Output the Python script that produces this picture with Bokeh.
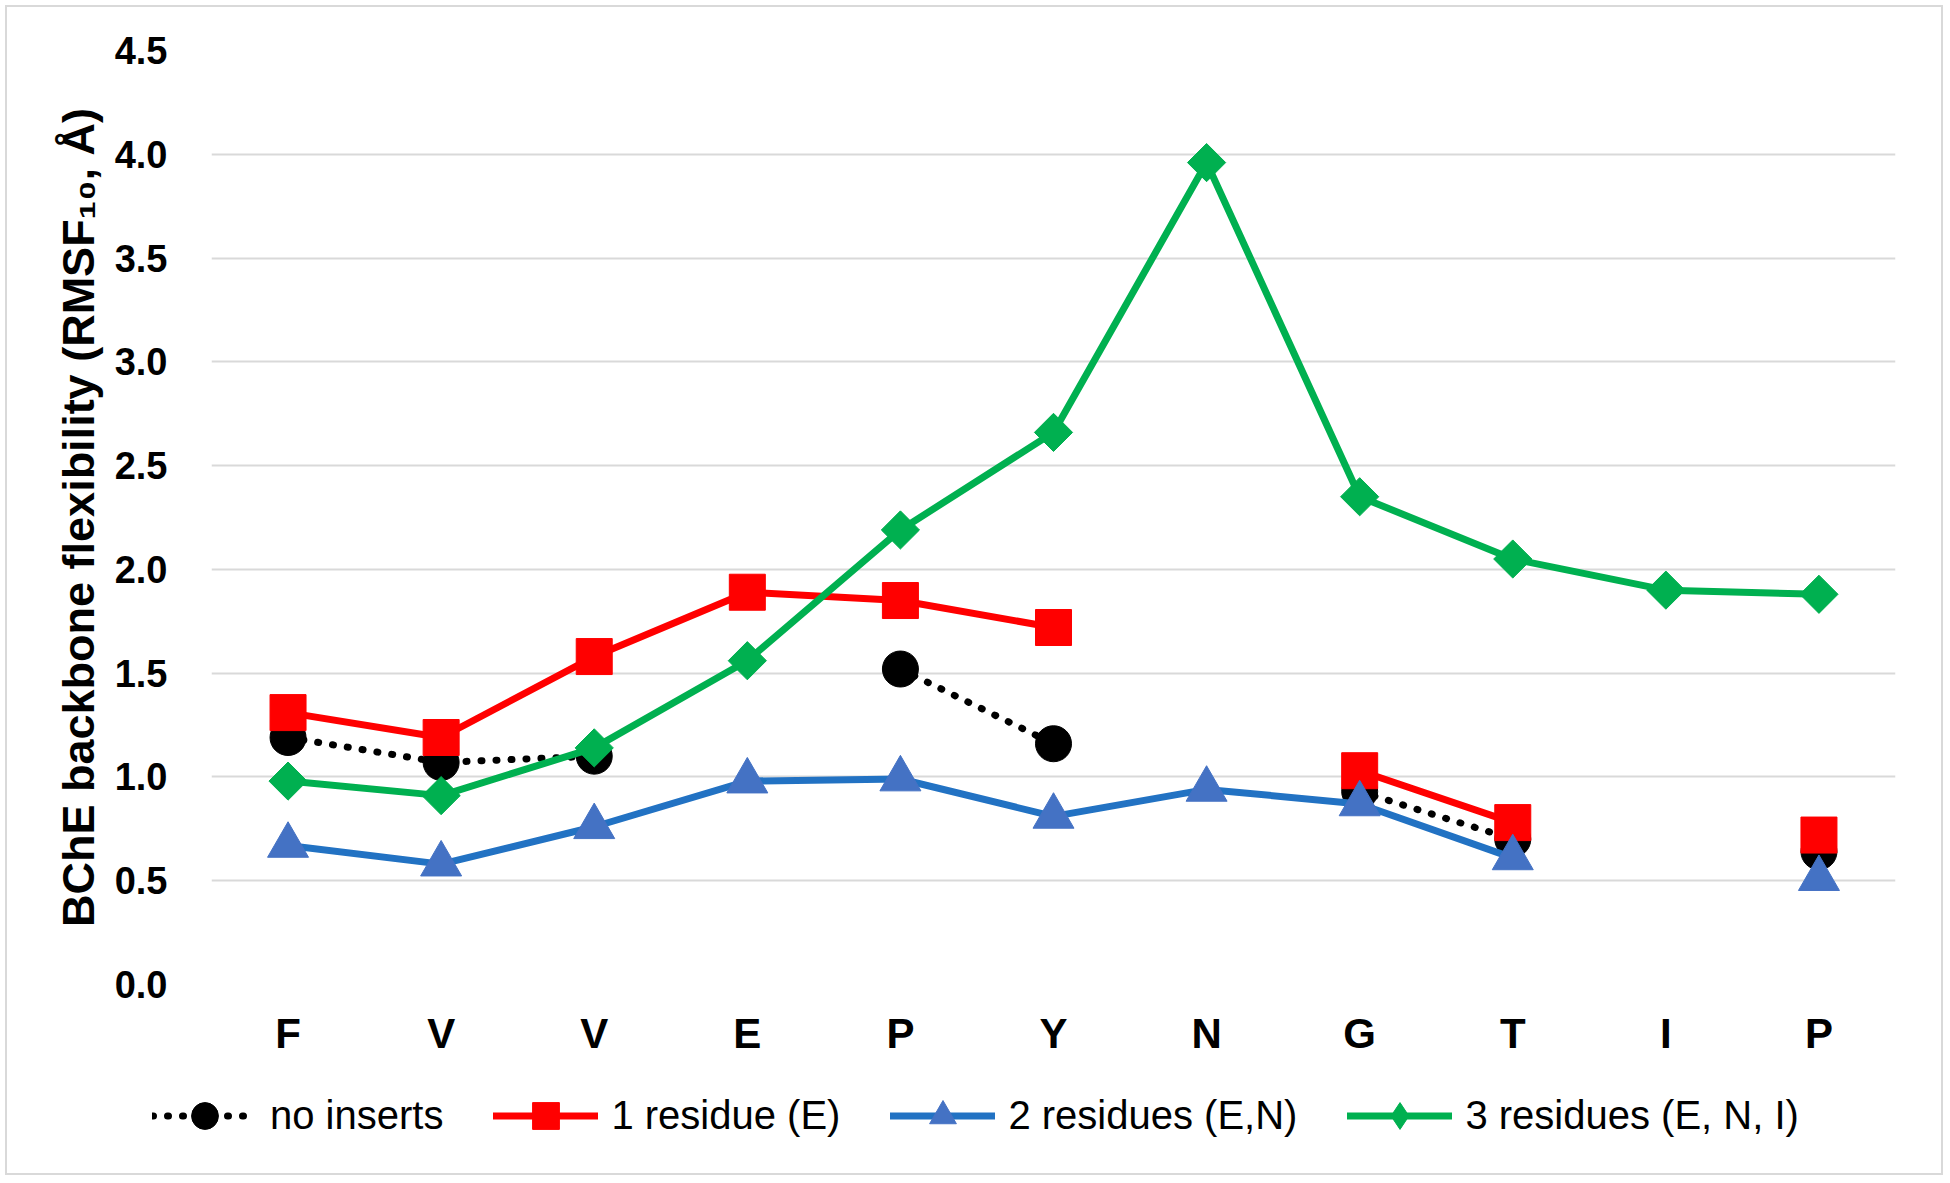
import numpy as np
from bokeh.plotting import figure
from bokeh.layouts import column
from bokeh.models import (ColumnDataSource, FixedTicker, NumeralTickFormatter,
                          Legend, LegendItem, Range1d)
from bokeh.embed import file_html
from bokeh.resources import INLINE

nan = float("nan")

# ---------------- data ----------------
residues = ["F", "V", "V", "E", "P", "Y", "N", "G", "T", "I", "P"]
no_inserts = [1.19, 1.07, 1.10, nan, 1.52, 1.16, nan, 0.93, 0.70, nan, 0.64]
one_residue = [1.31, 1.19, 1.58, 1.89, 1.85, 1.72, nan, 1.03, 0.78, nan, 0.72]
two_residues = [0.67, 0.58, 0.76, 0.98, 0.99, 0.81, 0.94, 0.87, 0.61, nan, 0.51]
three_residues = [0.98, 0.91, 1.14, 1.56, 2.19, 2.66, 3.96, 2.35, 2.05, 1.90, 1.88]
series_names = ["no inserts", "1 residue (E)", "2 residues (E,N)", "3 residues (E, N, I)"]
y_ticks = [0.0, 0.5, 1.0, 1.5, 2.0, 2.5, 3.0, 3.5, 4.0, 4.5]
y_label = "BChE backbone flexibility (RMSF\u2081\u2080, \u00c5)"

FONT = "Liberation Sans"
x_pos = list(range(len(residues)))

W = 1934
P_H = 43 + 934 + 90
L_H = 1166 - P_H

p = figure(width=W, height=P_H,
           x_range=Range1d(-0.5, len(residues) - 0.5),
           y_range=Range1d(0, 4.5),
           output_backend="svg", toolbar_location=None,
           min_border_left=204, min_border_right=46,
           min_border_top=43, min_border_bottom=90)
p.frame_align = False
p.outline_line_color = None
p.background_fill_color = "white"
p.border_fill_color = "white"

p.xgrid.visible = False
p.ygrid.grid_line_color = "#d9d9d9"
p.ygrid.grid_line_width = 2

# y axis
p.yaxis.ticker = FixedTicker(ticks=y_ticks)
p.yaxis.formatter = NumeralTickFormatter(format="0.0")
p.yaxis.axis_label = y_label
p.yaxis.axis_label_text_font = FONT
p.yaxis.axis_label_text_font_size = "45px"
p.yaxis.axis_label_text_font_style = "bold"
p.yaxis.axis_label_text_color = "black"
p.yaxis.axis_label_standoff = 8
p.yaxis.major_label_text_font = FONT
p.yaxis.major_label_text_font_size = "38px"
p.yaxis.major_label_text_font_style = "bold"
p.yaxis.major_label_text_color = "black"
p.yaxis.major_label_standoff = 38

# x axis
p.xaxis.ticker = FixedTicker(ticks=x_pos)
p.xaxis.major_label_overrides = {i: r for i, r in enumerate(residues)}
p.xaxis.major_label_text_font = FONT
p.xaxis.major_label_text_font_size = "42px"
p.xaxis.major_label_text_font_style = "bold"
p.xaxis.major_label_text_color = "black"
p.xaxis.major_label_standoff = 19

for ax in (p.xaxis, p.yaxis):
    ax.axis_line_color = None
    ax.major_tick_line_color = None
    ax.minor_tick_line_color = None

styles = [
    dict(vals=no_inserts, color="black", mcolor="black", marker="circle", size=36, angle=0,
         leg_marker="circle", dash="1 14", width=7),
    dict(vals=one_residue, color="#ff0000", mcolor="#ff0000", marker="square", size=36, angle=0,
         leg_marker="square", dash="solid", width=7),
    dict(vals=two_residues, color="#2272c3", mcolor="#4472c4", marker="triangle", size=41, angle=0,
         leg_marker="triangle", dash="solid", width=7),
    dict(vals=three_residues, color="#00b050", mcolor="#00b050", marker="square", size=27,
         angle=np.pi / 4, leg_marker="diamond", dash="solid", width=7),
]

# legend figure (below the chart)
lf = figure(width=W, height=L_H, x_range=Range1d(0, 1), y_range=Range1d(0, 1),
            output_backend="svg", toolbar_location=None,
            x_axis_type=None, y_axis_type=None,
            min_border_left=0, min_border_right=0, min_border_top=0, min_border_bottom=0)
lf.frame_align = False
lf.outline_line_color = None
lf.grid.visible = False

items = []
for name, st in zip(series_names, styles):
    src = ColumnDataSource(dict(x=x_pos, y=np.array(st["vals"], dtype=float)))
    p.line("x", "y", source=src, line_color=st["color"], line_width=st["width"],
           line_dash=st["dash"], line_cap="round", line_join="round")
    p.scatter("x", "y", source=src, marker=st["marker"], size=st["size"],
              angle=st["angle"], fill_color=st["mcolor"], line_color=st["mcolor"])
    # off-screen proxy renderers so that the legend can draw its glyphs
    proxy = ColumnDataSource(dict(x=[-10.0, -9.0], y=[-10.0, -10.0]))
    lr = lf.line("x", "y", source=proxy, line_color=st["color"], line_width=st["width"],
                 line_dash=st["dash"], line_cap="round", line_join="round")
    sr = lf.scatter("x", "y", source=proxy, marker=st["leg_marker"], size=st["size"],
                    fill_color=st["mcolor"], line_color=st["mcolor"])
    items.append(LegendItem(label=name, renderers=[lr, sr]))

legend = Legend(items=items, orientation="horizontal", location=(145, 24),
                glyph_width=105, glyph_height=67, label_standoff=13, spacing=50,
                padding=0, margin=0, border_line_color=None, background_fill_alpha=0,
                label_text_font=FONT, label_text_font_size="40px",
                label_text_color="black")
lf.add_layout(legend)

layout = column(p, lf, spacing=0)
layout.styles = {"border": "2px solid #d9d9d9", "margin": "5px", "background-color": "white"}

open("out.html", "w").write(file_html(layout, INLINE))
